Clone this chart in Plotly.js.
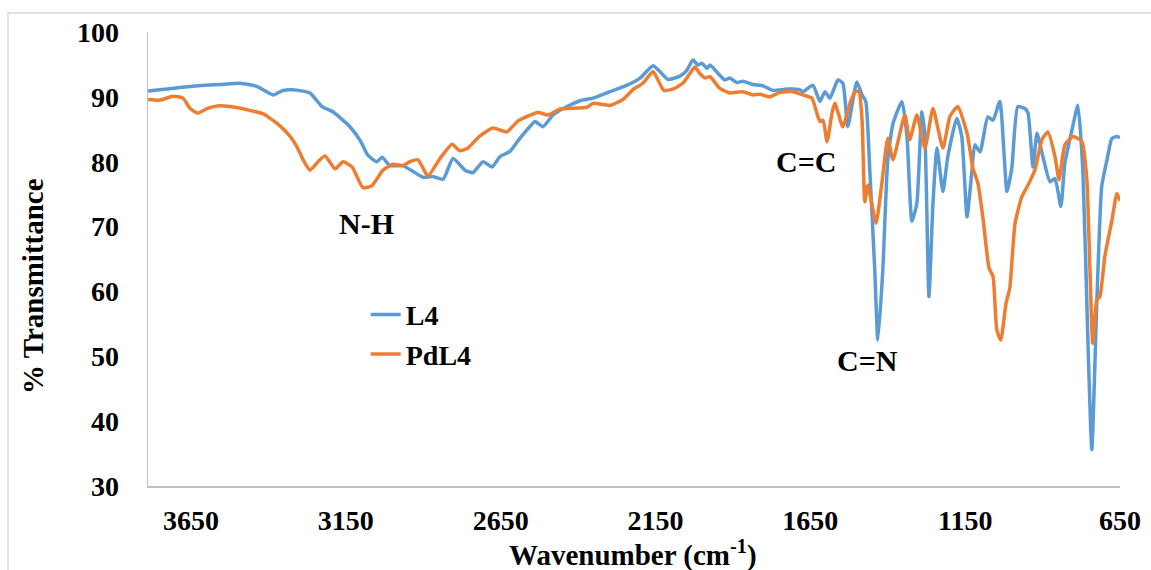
<!DOCTYPE html>
<html>
<head>
<meta charset="utf-8">
<script src="https://cdn.plot.ly/plotly-3.0.1.min.js"></script>
<style>html,body{margin:0;padding:0;background:#fff;}#chart{width:1151px;height:570px;}</style>
</head>
<body>
<div id="chart"></div>
<script>
// Wavenumber (cm-1) and % transmittance
const l4Wavenumber = [3789,3728,3653,3557,3492,3437,3385,3353,3321,3266,3227,3192,3137,3104,3079,3050,3033,3008,2966,2933,2901,2869,2836,2804,2765,2740,2707,2678,2652,2620,2588,2556,2539,2514,2481,2449,2394,2352,2297,2242,2200,2158,2136,2110,2071,2049,2029,2013,2000,1984,1974,1948,1926,1910,1887,1868,1835,1803,1771,1726,1684,1674,1642,1619,1603,1587,1561,1545,1529,1500,1483,1471,1458,1442,1432,1416,1400,1383,1354,1338,1322,1306,1290,1280,1267,1254,1241,1222,1206,1177,1161,1144,1128,1119,1102,1077,1060,1038,1015,999,980,957,947,931,918,899,876,860,841,828,805,786,770,754,741,725,709,692,676,660,650];
const l4Transmittance = [90.9,91.2,91.6,91.9,92.1,91.6,90.3,91.0,91.1,90.6,88.5,87.7,85.4,83.3,81.0,80.0,80.7,79.4,79.4,78.5,77.6,77.7,77.3,80.5,78.7,78.3,80.0,79.2,80.8,81.6,83.6,85.4,86.2,85.4,87.2,88.2,89.4,89.8,90.8,91.8,92.9,94.8,93.9,92.7,93.2,94.1,95.7,94.9,95.2,94.4,94.9,93.6,92.6,92.9,92.2,92.4,91.9,91.7,91.0,91.2,91.1,90.8,91.8,89.3,90.8,89.8,92.6,92.1,85.4,92.3,90.3,89.3,78.7,63.3,52.5,63.3,80.3,85.9,89.3,83.9,70.8,73.6,87.7,83.9,59.2,73.6,82.1,75.4,80.8,86.7,83.9,71.5,78.7,82.6,81.5,86.9,86.4,89.3,75.4,79.2,88.5,88.2,87.5,79.2,84.4,80.8,76.9,77.4,73.1,79.8,84.9,88.7,78.7,53.0,35.6,58.2,76.2,80.3,83.6,83.9,83.7];

const pdl4Wavenumber = [3789,3750,3708,3676,3653,3628,3598,3566,3524,3469,3418,3372,3330,3308,3288,3266,3240,3217,3185,3159,3130,3095,3066,3030,2998,2966,2943,2917,2885,2846,2807,2782,2756,2717,2675,2630,2594,2530,2497,2459,2372,2352,2297,2255,2223,2191,2158,2142,2123,2094,2062,2039,2023,2007,1990,1974,1942,1910,1868,1835,1813,1781,1748,1706,1674,1645,1629,1619,1609,1596,1580,1571,1545,1522,1506,1493,1483,1474,1464,1438,1419,1400,1383,1345,1329,1306,1280,1254,1222,1199,1174,1144,1125,1109,1093,1073,1060,1048,1035,1018,1006,989,967,947,925,902,883,860,847,828,802,773,757,747,738,725,715,699,676,660,650];
const pdl4Transmittance = [89.6,89.5,90.1,89.8,88.2,87.5,88.2,88.6,88.5,88.0,87.4,85.9,83.9,82.3,80.3,78.7,80.0,80.9,78.9,80.0,79.2,76.0,76.3,78.7,79.6,79.4,80.0,80.3,77.8,80.5,82.7,81.7,82.1,84.0,85.2,84.6,86.3,87.6,87.2,88.1,88.4,89.0,88.7,89.6,91.1,92.1,93.9,92.6,91.0,91.2,92.1,93.6,94.6,93.6,92.9,93.1,91.3,90.6,90.8,90.3,90.4,90.0,90.7,90.8,90.3,89.8,87.5,86.2,86.4,83.1,87.5,89.0,85.4,89.0,90.8,90.8,86.4,73.8,76.4,70.5,76.7,83.6,80.3,87.2,83.4,87.2,82.1,88.2,82.1,87.0,88.5,84.4,79.0,76.7,71.5,63.6,62.3,54.1,52.5,58.2,60.5,70.5,74.6,76.4,78.7,83.4,84.6,80.8,77.2,82.6,83.9,83.1,77.2,63.3,52.0,58.7,59.2,65.4,71.0,75.1,74.0];

const seriesNames = ['L4', 'PdL4'];
const xTickValues = [3650, 3150, 2650, 2150, 1650, 1150, 650];
const yTickValues = [30, 40, 50, 60, 70, 80, 90, 100];
const bandLabels = ['N-H', 'C=C', 'C=N'];
const bandWavenumbers = [3085, 1664, 1467];
const bandTransmittance = [70.5, 80.1, 49.3];

const FONT = 'Liberation Serif, Times New Roman, serif';
const AXIS_GREY = '#BFBFBF';

const traces = [
  {x: l4Wavenumber, y: l4Transmittance, name: seriesNames[0], type: 'scatter', mode: 'lines',
   line: {color: '#5B9BD5', width: 3.5, shape: 'spline', smoothing: 0.5}},
  {x: pdl4Wavenumber, y: pdl4Transmittance, name: seriesNames[1], type: 'scatter', mode: 'lines',
   line: {color: '#ED7D31', width: 3.5, shape: 'spline', smoothing: 0.5}}
];

const annotations = bandLabels.map((t, i) => ({
  x: bandWavenumbers[i], y: bandTransmittance[i], xref: 'x', yref: 'y', text: t, showarrow: false,
  xanchor: 'center', yanchor: 'middle', font: {family: FONT, size: 30, color: '#000', weight: 'bold'}
}));
annotations.push({
  x: 0.499, y: -0.1476, xref: 'paper', yref: 'paper', text: 'Wavenumber (cm<sup>-1</sup>)', showarrow: false,
  xanchor: 'center', yanchor: 'middle', font: {family: FONT, size: 29, color: '#000', weight: 'bold'}
});
annotations.push({
  x: -0.1183, y: 0.4405, xref: 'paper', yref: 'paper', text: '% Transmittance', showarrow: false, textangle: -90,
  xanchor: 'center', yanchor: 'middle', font: {family: FONT, size: 29, color: '#000', weight: 'bold'}
});

const layout = {
  width: 1151, height: 570,
  margin: {l: 148, r: 31, t: 32, b: 84, pad: 0},
  paper_bgcolor: '#fff', plot_bgcolor: '#fff',
  showlegend: true,
  legend: {x: 0.224, y: 0.432, xanchor: 'left', yanchor: 'top', bgcolor: 'rgba(0,0,0,0)',
           font: {family: FONT, size: 28, color: '#000', weight: 'bold'}, tracegroupgap: 0},
  xaxis: {range: [3789, 650], tickmode: 'array', tickvals: xTickValues, ticktext: xTickValues.map(String),
          showgrid: false, zeroline: false, showline: true, linecolor: AXIS_GREY, linewidth: 1.5,
          ticks: '', ticklabelstandoff: 9,
          tickfont: {family: FONT, size: 28, color: '#000', weight: 'bold'}},
  yaxis: {range: [30, 100], tickmode: 'array', tickvals: yTickValues,
          showgrid: false, zeroline: false, showline: true, linecolor: AXIS_GREY, linewidth: 1.5,
          ticks: '', ticklabelstandoff: 22,
          tickfont: {family: FONT, size: 28, color: '#000', weight: 'bold'}},
  annotations: annotations,
  shapes: [{type: 'rect', xref: 'paper', yref: 'paper', x0: -0.144, x1: 1.041, y0: -0.207, y1: 1.0419,
            line: {color: '#D9D9D9', width: 1.5}, fillcolor: 'rgba(0,0,0,0)', layer: 'below'}]
};

Plotly.newPlot('chart', traces, layout, {displayModeBar: false, staticPlot: true});
</script>
</body>
</html>
